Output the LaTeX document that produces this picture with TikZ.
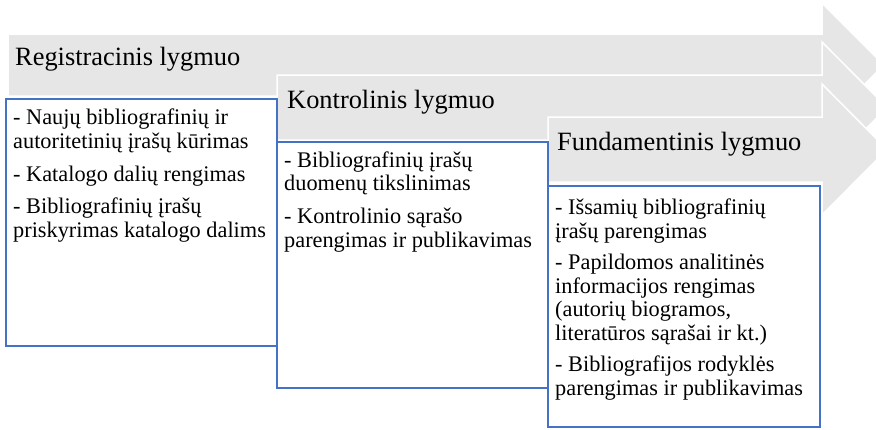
\documentclass[tikz,border=0pt]{standalone}
\usepackage{fontspec}
\setmainfont{Liberation Serif}
\definecolor{arrowgrey}{HTML}{E7E6E6}
\definecolor{boxblue}{HTML}{4472C4}
\tikzset{
  levelarrow/.style={fill=arrowgrey, draw=white, line width=1.5pt, line join=miter},
  levelbox/.style={draw=boxblue, fill=white, line width=1.4pt, inner sep=0pt, outer sep=0pt, anchor=north west},
  headtext/.style={anchor=base west, inner sep=0pt, font=\fontsize{26.4}{30}\selectfont, text=black},
  itemtext/.style={anchor=base west, inner sep=0pt, align=left, font=\fontsize{22.3}{23.5}\selectfont, text=black},
}
\begin{document}
\begin{tikzpicture}[x=1pt, y=-1pt]
\useasboundingbox (0,0) rectangle (876,429);
\clip (0,0) rectangle (876,429);
\fill[white] (0,0) rectangle (876,429);
% arrows
\draw[levelarrow] (8,34) -- (822,34) -- (822,3) -- (884,65) -- (822,127) -- (822,96) -- (8,96) -- cycle;
\draw[levelarrow] (277,75) -- (822,75) -- (822,42) -- (887,107.5) -- (822,173) -- (822,140) -- (277,140) -- cycle;
\draw[levelarrow] (548,117) -- (822,117) -- (822,84) -- (887,149.5) -- (822,215) -- (822,182) -- (548,182) -- cycle;
% headers
\node[headtext] (h1) at (15,65) {Registracinis lygmuo};
\node[headtext] (h2) at (287,108) {Kontrolinis lygmuo};
\node[headtext] (h3) at (557,150) {Fundamentinis lygmuo};
% boxes
\node[levelbox, minimum width=271pt, minimum height=247pt] (b1) at (6,99) {};
\node[levelbox, minimum width=271pt, minimum height=246pt] (b2) at (277,142) {};
\node[levelbox, minimum width=272pt, minimum height=241pt] (b3) at (548,186) {};
% box texts (anchored at the baseline of their last line)
\node[itemtext] (t1) at ([shift={(7,138)}]b1.north west)
  {- Naujų bibliografinių ir\\autoritetinių įrašų kūrimas\\[9.5pt]- Katalogo dalių rengimas\\[9pt]- Bibliografinių įrašų\\priskyrimas katalogo dalims};
\node[itemtext] (t2) at ([shift={(7,105)}]b2.north west)
  {- Bibliografinių įrašų\\duomenų tikslinimas\\[9.5pt]- Kontrolinio sąrašo\\parengimas ir publikavimas};
\node[itemtext] (t3) at ([shift={(7,209)}]b3.north west)
  {- Išsamių bibliografinių\\įrašų parengimas\\[8pt]- Papildomos analitinės\\informacijos rengimas\\(autorių biogramos,\\literatūros sąrašai ir kt.)\\[8pt]- Bibliografijos rodyklės\\parengimas ir publikavimas};
\end{tikzpicture}
\end{document}
